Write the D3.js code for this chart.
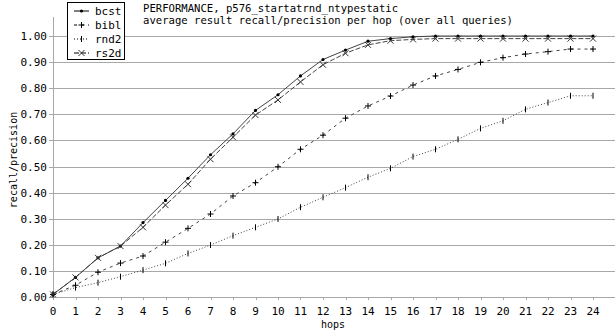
<!DOCTYPE html>
<html>
<head>
<meta charset="utf-8">
<script src="https://cdn.jsdelivr.net/npm/d3@7"></script>
<style>
  body { margin: 0; background: #fff; }
  text { font-family: "DejaVu Sans Mono", monospace; fill: #000; }
</style>
</head>
<body>
<svg id="chart" width="615" height="335"></svg>
<script>
// hops 0..24
const hops = d3.range(0, 25);

const bcst = [0.01, 0.075, 0.15, 0.195, 0.285, 0.37, 0.455, 0.545, 0.625, 0.715, 0.775, 0.847, 0.91, 0.946, 0.98, 0.99, 0.997, 1.0, 1.0, 1.0, 1.0, 1.0, 1.0, 1.0, 1.0];
const bibl = [0.01, 0.045, 0.095, 0.13, 0.157, 0.21, 0.263, 0.318, 0.387, 0.438, 0.499, 0.566, 0.62, 0.685, 0.732, 0.77, 0.812, 0.847, 0.872, 0.899, 0.917, 0.931, 0.94, 0.95, 0.95];
const rnd2 = [0.01, 0.036, 0.055, 0.078, 0.103, 0.129, 0.167, 0.199, 0.235, 0.267, 0.299, 0.344, 0.382, 0.419, 0.459, 0.493, 0.538, 0.566, 0.604, 0.646, 0.675, 0.719, 0.745, 0.771, 0.771];
const rs2d = [0.01, 0.075, 0.15, 0.195, 0.267, 0.352, 0.432, 0.528, 0.612, 0.697, 0.755, 0.824, 0.89, 0.934, 0.966, 0.982, 0.987, 0.99, 0.99, 0.99, 0.99, 0.99, 0.99, 0.99, 0.99];

const yTicks = d3.range(0, 11).map(d => d / 10);

const series = [
  {name: 'bcst', values: bcst, dash: null, marker: 'dot'},
  {name: 'bibl', values: bibl, dash: '3,4', marker: 'plus'},
  {name: 'rnd2', values: rnd2, dash: '1,2', marker: 'bar'},
  {name: 'rs2d', values: rs2d, dash: '5,2', marker: 'cross'}
];

const svg = d3.select('#chart');
const pLeft = 53, pRight = 615, pTop = 17, pBottom = 297;

const x = d3.scaleLinear().domain([0, 24]).range([pLeft, 593]);
const y = d3.scaleLinear().domain([0, 1]).range([pBottom, 36]);

// grid lines
svg.append('g')
  .selectAll('line')
  .data(yTicks.filter(d => d > 0))
  .join('line')
  .attr('x1', pLeft - 4).attr('x2', pRight)
  .attr('y1', d => Math.round(y(d)) + 0.5).attr('y2', d => Math.round(y(d)) + 0.5)
  .attr('stroke', '#a8a8a8');

// axes lines
svg.append('line')
  .attr('x1', pLeft + 0.5).attr('x2', pLeft + 0.5)
  .attr('y1', pTop).attr('y2', pBottom)
  .attr('stroke', '#a8a8a8');
svg.append('line')
  .attr('x1', pLeft - 4).attr('x2', pRight)
  .attr('y1', pBottom + 0.5).attr('y2', pBottom + 0.5)
  .attr('stroke', '#a8a8a8');

// x ticks
svg.append('g')
  .selectAll('line')
  .data(hops)
  .join('line')
  .attr('x1', d => Math.round(x(d)) + 0.5).attr('x2', d => Math.round(x(d)) + 0.5)
  .attr('y1', pBottom).attr('y2', pBottom + 3)
  .attr('stroke', '#a8a8a8');

svg.append('g')
  .selectAll('text')
  .data(hops)
  .join('text')
  .attr('x', d => x(d))
  .attr('y', 315)
  .attr('text-anchor', 'middle')
  .attr('font-size', 11)
  .text(d => d);

// y tick labels
svg.append('g')
  .selectAll('text')
  .data(yTicks)
  .join('text')
  .attr('x', 47)
  .attr('y', d => y(d) + 4)
  .attr('text-anchor', 'end')
  .attr('font-size', 11)
  .text(d => d.toFixed(2));

// axis titles
svg.append('text')
  .attr('x', 333).attr('y', 328)
  .attr('text-anchor', 'middle')
  .attr('font-size', 10)
  .text('hops');

svg.append('text')
  .attr('transform', 'translate(17,160) rotate(-90)')
  .attr('text-anchor', 'middle')
  .attr('font-size', 10)
  .text('recall/precision');

// title
svg.append('text').attr('x', 143).attr('y', 12).attr('font-size', 10.6)
  .text('PERFORMANCE, p576_startatrnd_ntypestatic');
svg.append('text').attr('x', 143).attr('y', 24).attr('font-size', 10.6)
  .text('average result recall/precision per hop (over all queries)');

// markers
function drawMarker(g, type, cx, cy) {
  if (type === 'dot') {
    g.append('circle').attr('cx', cx).attr('cy', cy).attr('r', 1.6).attr('fill', '#000');
  } else if (type === 'plus') {
    g.append('path').attr('d', `M${cx - 3},${cy}H${cx + 3}M${cx},${cy - 3}V${cy + 3}`)
      .attr('stroke', '#000').attr('fill', 'none');
  } else if (type === 'bar') {
    g.append('path').attr('d', `M${cx},${cy - 3}V${cy + 3}`)
      .attr('stroke', '#000').attr('fill', 'none');
  } else if (type === 'cross') {
    g.append('path').attr('d', `M${cx - 3},${cy - 3}L${cx + 3},${cy + 3}M${cx - 3},${cy + 3}L${cx + 3},${cy - 3}`)
      .attr('stroke', '#333').attr('fill', 'none');
  }
}

const line = d3.line()
  .x((d, i) => x(hops[i]))
  .y(d => y(d));

series.forEach(s => {
  const g = svg.append('g');
  g.append('path')
    .attr('d', line(s.values))
    .attr('fill', 'none')
    .attr('stroke', '#444')
    .attr('stroke-width', 1)
    .attr('stroke-dasharray', s.dash);
  s.values.forEach((v, i) => drawMarker(g, s.marker, x(hops[i]), y(v)));
});

// legend
const lg = svg.append('g');
lg.append('rect')
  .attr('x', 67.5).attr('y', 2.5).attr('width', 57).attr('height', 57)
  .attr('fill', '#fff').attr('stroke', '#000');
series.forEach((s, i) => {
  const ly = 11 + i * 14;
  lg.append('line')
    .attr('x1', 74).attr('x2', 89).attr('y1', ly).attr('y2', ly)
    .attr('stroke', '#000').attr('stroke-dasharray', s.dash);
  drawMarker(lg, s.marker, 81.5, ly);
  lg.append('text')
    .attr('x', 95).attr('y', ly + 4)
    .attr('font-size', 11)
    .text(s.name);
});
</script>
</body>
</html>
